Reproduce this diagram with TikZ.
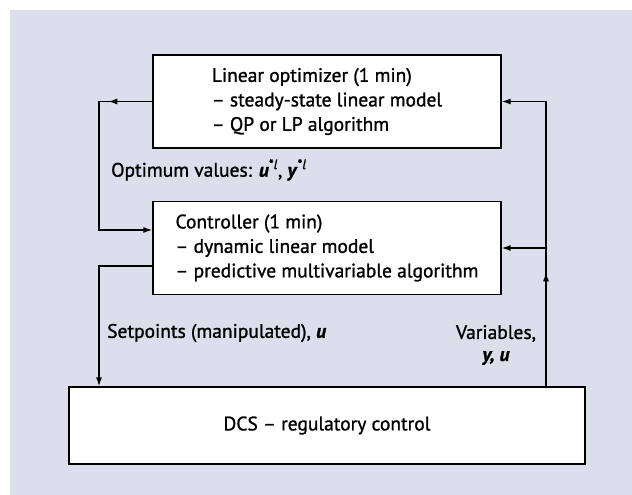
\documentclass[tikz,border=0pt]{standalone}
\usepackage{fontspec}
\setmainfont{PT Sans}[FakeBold=1.2]
\usepackage{xcolor}
\usetikzlibrary{arrows.meta,positioning,decorations.markings}
\definecolor{panelbg}{RGB}{221,222,235}

\begin{document}
\begin{tikzpicture}[x=1pt, y=-1pt,
  box/.style={draw, line width=1.4pt, fill=white, align=left, minimum width=348pt, minimum height=93pt,
    font=\fontsize{19.5}{24.5}\selectfont},
  dcsbox/.style={draw, line width=1.4pt, fill=white, minimum width=516pt, minimum height=77pt,
    font=\fontsize{19.5}{24.5}\selectfont},
  link/.style={line width=1.3pt, -{Latex[length=9pt,width=6pt]}},
  midtip/.style={postaction={decorate}, decoration={markings,
    mark=at position #1 with {\arrow{Latex[length=9pt,width=6pt]}}}},
  lbl/.style={font=\fontsize{19.5}{22}\selectfont, inner sep=0pt}
]
\useasboundingbox (0,0) rectangle (632,495);
\fill[panelbg] (10,10) rectangle (632,495);

\node[box] (optimizer) at (327,101.5) {Linear optimizer (1 min)\\-- steady-state linear model\\-- QP or LP algorithm};
\node[box] (controller) at (327,248) {Controller (1 min)\\-- dynamic linear model\\-- predictive multivariable algorithm};
\node[dcsbox] (dcs) at (327,425.5) {DCS -- regulatory control};

\coordinate (leftrail) at (99,0);
\coordinate (rightrail) at (546,0);
\coordinate (ctrl-in) at ([yshift=18pt]controller.west);
\coordinate (ctrl-out) at ([yshift=-18pt]controller.west);

\draw[link, midtip=44pt] (optimizer.west) -| (leftrail |- ctrl-in) -- (ctrl-in);
\draw[link] (ctrl-out) -| (leftrail |- dcs.north);
\draw[link, midtip=114pt] (rightrail |- dcs.north) |- (optimizer.east);
\draw[link] (rightrail |- controller.east) -- (controller.east);

\node[lbl, anchor=west] (optimum) at (111,170) {Optimum values: \textbf{\textit{u}}\textsuperscript{*\textit{l}}, \textbf{\textit{y}}\textsuperscript{*\textit{l}}};
\node[lbl, anchor=west] (setpoints) at (107,333) {Setpoints (manipulated), \textbf{\textit{u}}};
\node[lbl, align=center] (variables) at (496,345) {Variables,\\\textbf{\textit{y, u}}};
\end{tikzpicture}
\end{document}
